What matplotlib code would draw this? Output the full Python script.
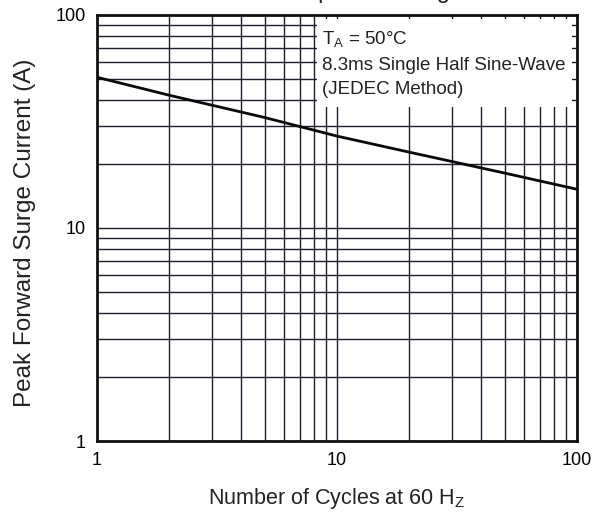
import matplotlib
matplotlib.use("Agg")
import matplotlib.pyplot as plt
from matplotlib.patches import Rectangle

plt.rcParams["font.family"] = ["Liberation Sans", "DejaVu Sans"]
plt.rcParams["mathtext.fontset"] = "custom"
plt.rcParams["mathtext.rm"] = "Liberation Sans"

# data
cycles = [1, 2, 5, 10, 20, 50, 100]
surge_current = [51, 42, 33, 27, 22.7, 18.1, 15.2]

x_ticks = [1, 10, 100]
x_tick_labels = ["1", "10", "100"]
y_ticks = [1, 10, 100]
y_tick_labels = ["1", "10", "100"]

note_lines = [r"T$_\mathregular{A}$ = 50°C",
              "8.3ms Single Half Sine-Wave",
              "(JEDEC Method)"]

GRID = "#1c1c2a"

fig = plt.figure(figsize=(6.04, 5.2), dpi=100)
ax = fig.add_axes([0.1606, 0.1519, 0.7947, 0.8193])

ax.set_xscale("log")
ax.set_yscale("log")
ax.set_xlim(1, 100)
ax.set_ylim(1, 100)

ax.grid(True, which="both", color=GRID, linewidth=1.0)
ax.tick_params(which="both", length=0)
ax.set_xticks(x_ticks)
ax.set_xticklabels(x_tick_labels, fontsize=13)
ax.set_yticks(y_ticks)
ax.set_yticklabels(y_tick_labels, fontsize=13)
ax.tick_params(axis="x", pad=8)
ax.tick_params(axis="y", pad=8)
for s in ax.spines.values():
    s.set_linewidth(2.0)
    s.set_color("#111111")

# white box that hides the grid behind the note
ax.add_patch(Rectangle((0.458, 0.784), 0.532, 0.207, transform=ax.transAxes,
                       facecolor="white", edgecolor="none", zorder=1.8))

ax.plot(cycles, surge_current, color="#0a0a0a", linewidth=2.0, zorder=3)

ax.text(0.469, 0.965, "\n".join(note_lines), transform=ax.transAxes,
        ha="left", va="top", fontsize=13.5, color="#222222",
        linespacing=1.52, zorder=4)

ax.set_xlabel(r"Number of Cycles at 60 H$_\mathregular{Z}$", fontsize=15.5,
              color="#222222", labelpad=12)
ax.set_ylabel("Peak Forward Surge Current (A)", fontsize=17.5,
              color="#222222")
ax.yaxis.set_label_coords(-0.128, 0.488)

# title cut off by the top edge of the image, only its descenders show
fig.text(0.56, 1 + 2.0 / 520, "Maximum Non-Repetitive Surge Current", ha="center",
         va="baseline", fontsize=17, color="#222222")

fig.savefig("out.png", dpi=100)
